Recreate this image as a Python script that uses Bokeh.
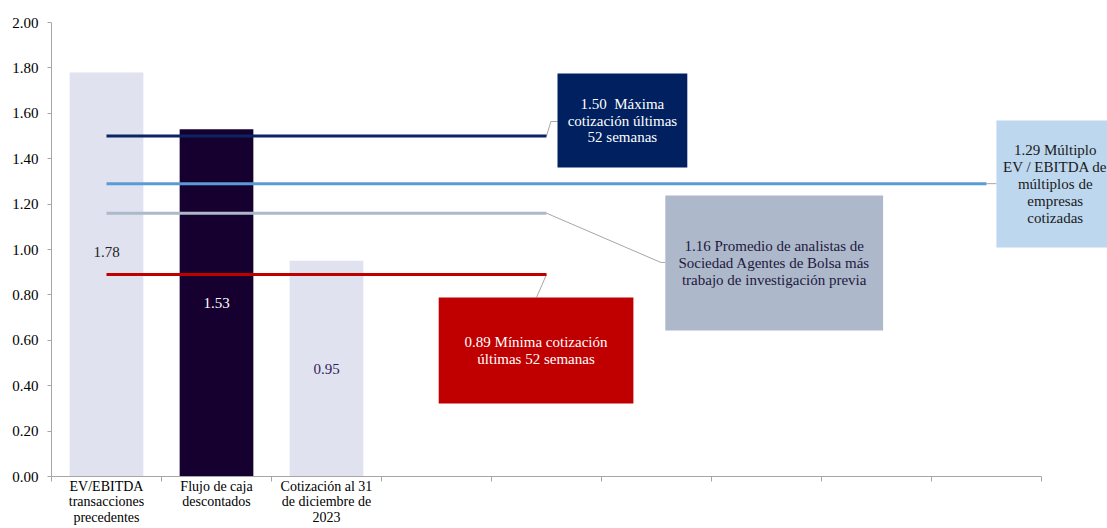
from bokeh.plotting import figure
from bokeh.models import Range1d, FixedTicker, NumeralTickFormatter
from bokeh.core.properties import value
from bokeh.embed import file_html
from bokeh.resources import INLINE

# ---- data ----
categories = ["EV/EBITDA\ntransacciones\nprecedentes",
              "Flujo de caja\ndescontados",
              "Cotización al 31\nde diciembre de\n2023",
              "", "", "", "", "", ""]
bar_values = [1.78, 1.53, 0.95]
bar_colors = ["#E0E2F0", "#150030", "#E0E2F0"]
bar_label_colors = ["#222222", "#FFFFFF", "#2E2358"]

ref_values = [1.50, 1.29, 1.16, 0.89]
ref_span = [5, 9, 5, 5]          # number of categories each reference line covers
ref_colors = ["#0B2563", "#5B9BD5", "#ADB9CA", "#C00000"]
ref_labels = ["1.50\u00a0 Máxima\ncotización últimas\n52 semanas",
              "1.29 Múltiplo\nEV / EBITDA de\nmúltiplos de\nempresas\ncotizadas",
              "1.16 Promedio de analistas de\nSociedad Agentes de Bolsa más\ntrabajo de investigación previa",
              "0.89 Mínima cotización\núltimas 52 semanas"]
box_fill = ["#002060", "#BDD7EE", "#ADB9CA", "#C00000"]
box_text_color = ["#FFFFFF", "#1A1A1A", "#1E1840", "#FFFFFF"]

# callout layout (left, right, top, bottom) in axis units
box_layout = [(4.60, 5.78, 1.775, 1.361),
              (8.59, 9.66, 1.568, 1.009),
              (5.58, 7.56, 1.238, 0.643),
              (3.52, 5.29, 0.789, 0.322)]
# leader line bends (x, y) between line end and box
leader_pts = [[(4.54, 1.564), (4.60, 1.564)],
              [(8.59, 1.29)],
              [(5.54, 0.943), (5.58, 0.943)],
              [(4.41, 0.789)]]

SERIF = value("Liberation Serif")

p = figure(width=1107, height=528, x_range=Range1d(0, 9.6), y_range=Range1d(0, 2.0),
           min_border_left=51, min_border_right=0, min_border_top=22, min_border_bottom=52,
           toolbar_location=None, output_backend="svg")
p.outline_line_color = None
p.xgrid.visible = False
p.ygrid.visible = False
p.background_fill_color = "white"
p.border_fill_color = "white"

n = len(categories)
centers = [i + 0.5 for i in range(n)]

# bars
bx = centers[:len(bar_values)]
p.vbar(x=bx, top=bar_values, width=0.67, color=bar_colors, line_color=None)

# bar labels (first one lifted above the red line)
label_y = [v / 2 for v in bar_values]
label_y[0] += 0.1
p.text(x=bx, y=label_y, text=["%.2f" % v for v in bar_values], text_color=bar_label_colors,
       text_align="center", text_baseline="middle", text_font=SERIF, text_font_size="15px")

# reference lines, leaders, callouts
for i, v in enumerate(ref_values):
    x0 = centers[0]
    x1 = centers[ref_span[i] - 1]
    xs = [x1] + [pt[0] for pt in leader_pts[i]]
    ys = [v] + [pt[1] for pt in leader_pts[i]]
    p.line(xs, ys, line_color="#A6A6A6", line_width=1)
    p.line([x0, x1], [v, v], line_color=ref_colors[i], line_width=3)
    l, r, t, b = box_layout[i]
    p.quad(left=[l], right=[r], top=[t], bottom=[b], fill_color=box_fill[i], line_color=None)
    p.text(x=[(l + r) / 2], y=[(t + b) / 2], text=[ref_labels[i]], text_color=box_text_color[i],
           text_align="center", text_baseline="middle", text_font=SERIF,
           text_font_size="15px", text_line_height=1.05)

# y axis
yax = p.yaxis[0]
yax.ticker = FixedTicker(ticks=[round(0.2 * k, 2) for k in range(11)])
yax.formatter = NumeralTickFormatter(format="0.00")
yax.axis_line_color = "#A6A6A6"
yax.major_tick_line_color = "#A6A6A6"
yax.major_tick_in = 0
yax.major_tick_out = 4
yax.minor_tick_line_color = None
yax.major_label_text_font = "Liberation Serif"
yax.major_label_text_font_size = "15px"
yax.major_label_text_color = "#000000"
yax.major_label_standoff = 9

# x axis
xax = p.xaxis[0]
xax.ticker = FixedTicker(ticks=centers, minor_ticks=list(range(n + 1)))
xax.major_label_overrides = {c: categories[i] for i, c in enumerate(centers)}
xax.bounds = (0, n)
xax.axis_line_color = "#A6A6A6"
xax.major_tick_line_color = None
xax.major_tick_in = 0
xax.major_tick_out = 0
xax.minor_tick_line_color = "#A6A6A6"
xax.minor_tick_in = 0
xax.minor_tick_out = 5
xax.major_label_text_font = "Liberation Serif"
xax.major_label_text_font_size = "14px"
xax.major_label_text_color = "#000000"
xax.major_label_text_line_height = 1.05
xax.major_label_standoff = -3

open("out.html", "w").write(file_html(p, INLINE))
